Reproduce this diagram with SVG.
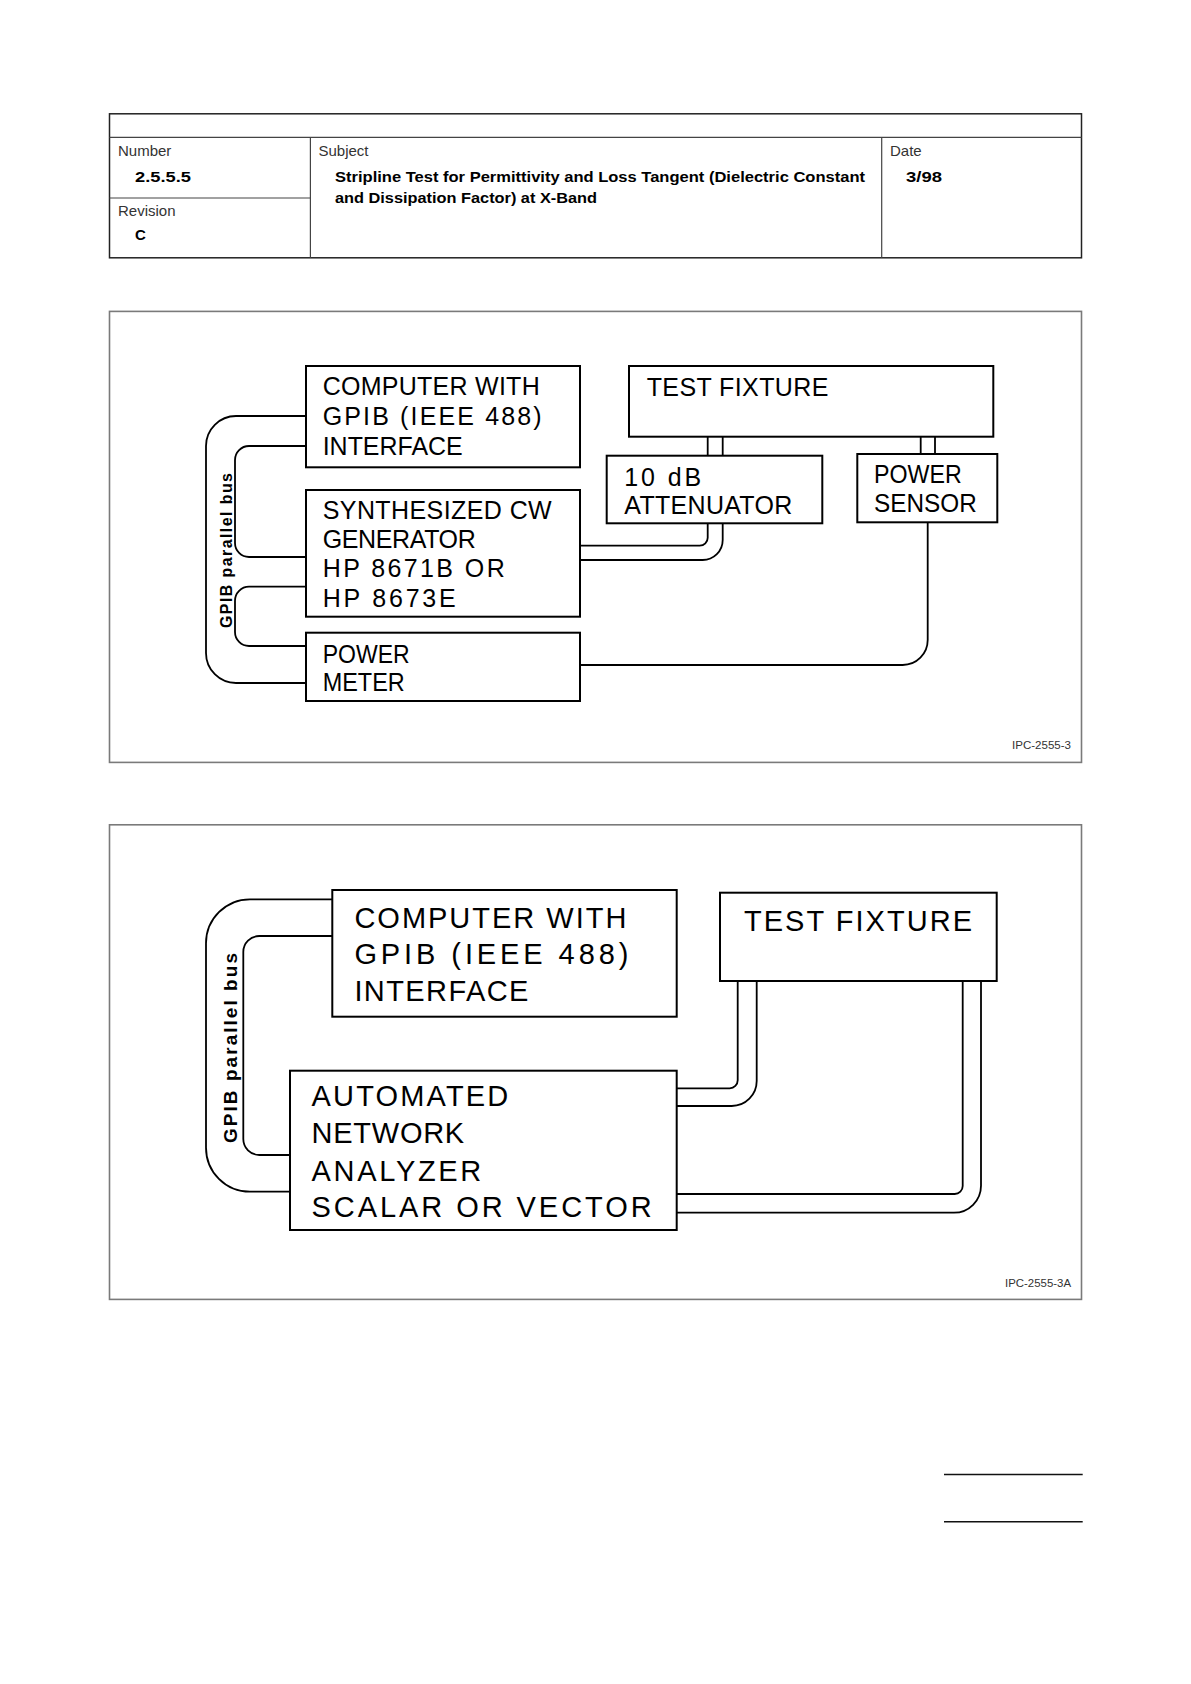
<svg xmlns="http://www.w3.org/2000/svg" width="1191" height="1684" viewBox="0 0 1191 1684">
<style>
  .bg { fill: #ffffff; }
  .hdr { fill: none; stroke: #222; stroke-width: 1.5; }
  .hdr-in { fill: none; stroke: #444; stroke-width: 1.2; }
  .panel { fill: none; stroke: #7a7a7a; stroke-width: 1.6; }
  .box { fill: #ffffff; stroke: #000; stroke-width: 2; }
  .wire { fill: none; stroke: #000; stroke-width: 1.8; }
  .lbl { font-family: "Liberation Sans", Arial, sans-serif; font-size: 15px; fill: #333; }
  .bold { font-family: "Liberation Sans", Arial, sans-serif; font-size: 15px; font-weight: bold; fill: #000; }
  .cad1 { font-family: "Liberation Sans", Arial, sans-serif; font-size: 25px; fill: #000; }
  .cad2 { font-family: "Liberation Sans", Arial, sans-serif; font-size: 29px; fill: #000; }
  .bus { font-family: "Liberation Sans", Arial, sans-serif; font-weight: bold; fill: #000; }
  .ipc { font-family: "Liberation Sans", Arial, sans-serif; font-size: 11px; fill: #333; }
  .rule { stroke: #111; stroke-width: 1.5; }
</style>
<rect class="bg" x="0" y="0" width="1191" height="1684"/>

<g id="header">
  <rect class="hdr" x="109.5" y="113.8" width="972" height="144"/>
  <line class="hdr-in" x1="109.5" y1="137.3" x2="1081.5" y2="137.3"/>
  <line class="hdr-in" x1="310.4" y1="137.3" x2="310.4" y2="257.8"/>
  <line class="hdr-in" x1="881.7" y1="137.3" x2="881.7" y2="257.8"/>
  <line class="hdr-in" x1="109.5" y1="198" x2="310.4" y2="198"/>
  <text class="lbl" x="118" y="156">Number</text>
  <text class="bold" x="135" y="181.5" textLength="56" lengthAdjust="spacingAndGlyphs">2.5.5.5</text>
  <text class="lbl" x="118" y="215.5">Revision</text>
  <text class="bold" x="135" y="240">C</text>
  <text class="lbl" x="318.5" y="156">Subject</text>
  <text class="bold" x="335" y="181.5" textLength="530" lengthAdjust="spacingAndGlyphs">Stripline Test for Permittivity and Loss Tangent (Dielectric Constant</text>
  <text class="bold" x="335" y="202.5" textLength="262" lengthAdjust="spacingAndGlyphs">and Dissipation Factor) at X-Band</text>
  <text class="lbl" x="890" y="156">Date</text>
  <text class="bold" x="906" y="181.5" textLength="36" lengthAdjust="spacingAndGlyphs">3/98</text>
</g>

<g id="panel1">
  <rect class="panel" x="109.5" y="311.4" width="972" height="451"/>
  <text class="ipc" x="1012" y="748.5" textLength="59" lengthAdjust="spacingAndGlyphs">IPC-2555-3</text>
</g>

<g id="panel2">
  <rect class="panel" x="109.5" y="824.8" width="972" height="474.6"/>
  <text class="ipc" x="1005" y="1286.7" textLength="66" lengthAdjust="spacingAndGlyphs">IPC-2555-3A</text>
</g>

<g id="connectors">
  <!-- panel 1 GPIB bus -->
  <path class="wire" d="M306,416 H236 A30,30 0 0 0 206,446 V653 A30,30 0 0 0 236,683 H306"/>
  <path class="wire" d="M306,446 H249 A14,14 0 0 0 235,460 V543 A14,14 0 0 0 249,557 H306"/>
  <path class="wire" d="M306,586.7 H249 A14,14 0 0 0 235,600.7 V632 A14,14 0 0 0 249,646 H306"/>
  <!-- fixture to attenuator -->
  <line class="wire" x1="707.7" y1="436.7" x2="707.7" y2="455.7"/>
  <line class="wire" x1="722.7" y1="436.7" x2="722.7" y2="455.7"/>
  <!-- fixture to sensor -->
  <line class="wire" x1="920.7" y1="436.7" x2="920.7" y2="454"/>
  <line class="wire" x1="935" y1="436.7" x2="935" y2="454"/>
  <!-- attenuator to synthesizer -->
  <path class="wire" d="M580,545.7 H699.7 A8,8 0 0 0 707.7,537.7 V523.3"/>
  <path class="wire" d="M580,560 H702.7 A20,20 0 0 0 722.7,540 V523.3"/>
  <!-- sensor to power meter -->
  <path class="wire" d="M927.7,522.3 V640 A25,25 0 0 1 902.7,665 H580"/>

  <!-- panel 2 GPIB bus -->
  <path class="wire" d="M332.3,899.3 H250 A44,44 0 0 0 206,943.3 V1147.7 A44,44 0 0 0 250,1191.7 H290"/>
  <path class="wire" d="M332.3,936 H259.3 A16,16 0 0 0 243.3,952 V1139 A16,16 0 0 0 259.3,1155 H290"/>
  <!-- analyzer to fixture -->
  <path class="wire" d="M676.7,1088.3 H729.7 A8,8 0 0 0 737.7,1080.3 V981"/>
  <path class="wire" d="M676.7,1106 H731.7 A25,25 0 0 0 756.7,1081 V981"/>
  <path class="wire" d="M676.7,1194 H954.7 A8,8 0 0 0 962.7,1186 V981"/>
  <path class="wire" d="M676.7,1212.7 H954 A27,27 0 0 0 981,1185.7 V981"/>
</g>

<g id="bus-label-1">
  <text class="bus" font-size="16" transform="translate(232,628) rotate(-90)" textLength="155" lengthAdjust="spacing">GPIB parallel bus</text>
</g>
<g id="bus-label-2">
  <text class="bus" font-size="19" transform="translate(236.5,1143) rotate(-90)" textLength="190" lengthAdjust="spacing">GPIB parallel bus</text>
</g>

<g id="computer1">
  <rect class="box" x="306" y="366" width="274" height="101.3"/>
  <text class="cad1" x="322.7" y="395" textLength="217" lengthAdjust="spacing">COMPUTER WITH</text>
  <text class="cad1" x="322.7" y="425" textLength="219" lengthAdjust="spacing">GPIB (IEEE 488)</text>
  <text class="cad1" x="322.7" y="455" textLength="140" lengthAdjust="spacingAndGlyphs">INTERFACE</text>
</g>
<g id="synthesizer">
  <rect class="box" x="306" y="490" width="274" height="126.7"/>
  <text class="cad1" x="322.7" y="519" textLength="229" lengthAdjust="spacing">SYNTHESIZED CW</text>
  <text class="cad1" x="322.7" y="548.3" textLength="153" lengthAdjust="spacing">GENERATOR</text>
  <text class="cad1" x="322.7" y="577.3" textLength="182" lengthAdjust="spacing">HP 8671B OR</text>
  <text class="cad1" x="322.7" y="606.7" textLength="133" lengthAdjust="spacing">HP 8673E</text>
</g>
<g id="power-meter">
  <rect class="box" x="306" y="632.7" width="274" height="68.3"/>
  <text class="cad1" x="322.7" y="662.7" textLength="87" lengthAdjust="spacingAndGlyphs">POWER</text>
  <text class="cad1" x="322.7" y="690.7" textLength="82" lengthAdjust="spacingAndGlyphs">METER</text>
</g>
<g id="test-fixture1">
  <rect class="box" x="629" y="366" width="364.3" height="70.7"/>
  <text class="cad1" x="646.7" y="396" textLength="181.7" lengthAdjust="spacing">TEST FIXTURE</text>
</g>
<g id="attenuator">
  <rect class="box" x="606.7" y="455.7" width="215.6" height="67.6"/>
  <text class="cad1" x="624.3" y="485.7" textLength="77" lengthAdjust="spacing">10 dB</text>
  <text class="cad1" x="624.3" y="514" textLength="168" lengthAdjust="spacing">ATTENUATOR</text>
</g>
<g id="power-sensor">
  <rect class="box" x="857.3" y="454" width="140" height="68.3"/>
  <text class="cad1" x="874" y="483.3" textLength="87.7" lengthAdjust="spacingAndGlyphs">POWER</text>
  <text class="cad1" x="874" y="512.3" textLength="102.7" lengthAdjust="spacingAndGlyphs">SENSOR</text>
</g>

<g id="computer2">
  <rect class="box" x="332.3" y="890" width="344.4" height="126.7"/>
  <text class="cad2" x="354.4" y="928" textLength="272" lengthAdjust="spacing">COMPUTER WITH</text>
  <text class="cad2" x="354.4" y="964" textLength="274" lengthAdjust="spacing">GPIB (IEEE 488)</text>
  <text class="cad2" x="354.4" y="1001" textLength="174" lengthAdjust="spacing">INTERFACE</text>
</g>
<g id="network-analyzer">
  <rect class="box" x="290" y="1070.7" width="386.7" height="159.3"/>
  <text class="cad2" x="311.6" y="1106" textLength="196.6" lengthAdjust="spacing">AUTOMATED</text>
  <text class="cad2" x="311.6" y="1143.3" textLength="152.6" lengthAdjust="spacing">NETWORK</text>
  <text class="cad2" x="311.6" y="1180.7" textLength="169.7" lengthAdjust="spacing">ANALYZER</text>
  <text class="cad2" x="311.6" y="1217.3" textLength="340" lengthAdjust="spacing">SCALAR OR VECTOR</text>
</g>
<g id="test-fixture2">
  <rect class="box" x="720" y="892.7" width="276.7" height="88.3"/>
  <text class="cad2" font-size="31" x="744" y="931" textLength="228" lengthAdjust="spacing">TEST FIXTURE</text>
</g>

<g id="footer-rules">
  <line class="rule" x1="944" y1="1474.5" x2="1082.7" y2="1474.5"/>
  <line class="rule" x1="944" y1="1521.7" x2="1082.7" y2="1521.7"/>
</g>
</svg>
